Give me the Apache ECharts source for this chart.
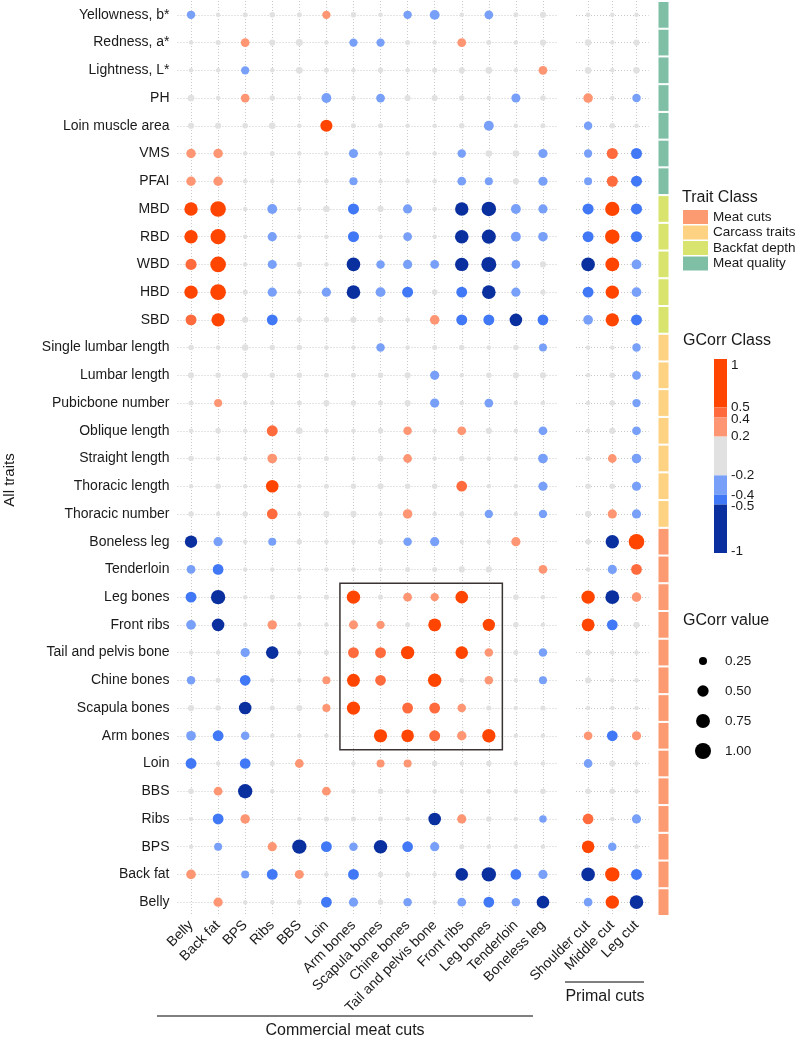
<!DOCTYPE html>
<html>
<head>
<meta charset="utf-8">
<script src="https://cdn.jsdelivr.net/npm/echarts@6/dist/echarts.min.js"></script>
<style>
  html, body { margin: 0; padding: 0; background: #fff; }
  #chart { width: 797px; height: 1038px; }
</style>
</head>
<body>
<div id="chart"></div>
<script>
// columns
const commercialCuts = ['Belly', 'Back fat', 'BPS', 'Ribs', 'BBS', 'Loin', 'Arm bones', 'Scapula bones',
  'Chine bones', 'Tail and pelvis bone', 'Front ribs', 'Leg bones', 'Tenderloin', 'Boneless leg'];
const primalCuts = ['Shoulder cut', 'Middle cut', 'Leg cut'];

// rows, top to bottom
const traits = ['Yellowness, b*', 'Redness, a*', 'Lightness, L*', 'PH', 'Loin muscle area', 'VMS', 'PFAI',
  'MBD', 'RBD', 'WBD', 'HBD', 'SBD',
  'Single lumbar length', 'Lumbar length', 'Pubicbone number', 'Oblique length', 'Straight length',
  'Thoracic length', 'Thoracic number',
  'Boneless leg', 'Tenderloin', 'Leg bones', 'Front ribs', 'Tail and pelvis bone', 'Chine bones',
  'Scapula bones', 'Arm bones', 'Loin', 'BBS', 'Ribs', 'BPS', 'Back fat', 'Belly'];

const traitClassOfRow = [
  'Meat quality', 'Meat quality', 'Meat quality', 'Meat quality', 'Meat quality', 'Meat quality', 'Meat quality',
  'Backfat depth', 'Backfat depth', 'Backfat depth', 'Backfat depth', 'Backfat depth',
  'Carcass traits', 'Carcass traits', 'Carcass traits', 'Carcass traits', 'Carcass traits', 'Carcass traits', 'Carcass traits',
  'Meat cuts', 'Meat cuts', 'Meat cuts', 'Meat cuts', 'Meat cuts', 'Meat cuts', 'Meat cuts',
  'Meat cuts', 'Meat cuts', 'Meat cuts', 'Meat cuts', 'Meat cuts', 'Meat cuts', 'Meat cuts'];

const traitClasses = ['Meat cuts', 'Carcass traits', 'Backfat depth', 'Meat quality'];
const traitClassColors = ['#fc9b72', '#fdd282', '#d8e46d', '#7fbfa5'];

// genetic correlations, one row per trait (null = same trait)
const gcorrCommercial = [
  [-0.28, 0.08, 0.1, -0.12, 0.1, 0.27, 0.12, -0.07, -0.28, -0.38, 0.05, -0.3, -0.1, -0.15],
  [0.05, 0.1, 0.3, 0.15, 0.19, -0.08, -0.27, -0.27, 0.1, 0.05, 0.3, -0.1, 0.08, 0.15],
  [0.08, -0.08, -0.27, 0.05, 0.18, -0.1, 0.04, -0.12, 0.08, -0.1, 0.15, 0.18, -0.05, 0.3],
  [0.18, 0.05, 0.3, -0.12, 0.05, -0.38, 0.08, -0.3, 0.15, -0.15, 0.12, -0.08, -0.32, 0.12],
  [0.15, -0.15, 0.12, 0.17, 0.04, 0.58, -0.1, 0.1, -0.05, 0.05, -0.12, -0.38, 0.05, -0.1],
  [0.35, 0.35, 0.05, 0.1, -0.05, 0.03, -0.32, 0.05, -0.04, 0.05, -0.28, 0.17, -0.17, -0.33],
  [0.35, 0.35, 0.03, 0.08, -0.05, 0.04, -0.26, 0.05, -0.03, 0.03, -0.3, -0.25, 0.15, -0.33],
  [0.7, 0.95, 0.04, -0.38, 0.04, 0.17, -0.48, 0.15, -0.33, 0.04, -0.7, -0.82, -0.38, -0.33],
  [0.7, 0.9, 0.03, -0.33, 0.04, 0.07, -0.48, -0.07, -0.3, 0.03, -0.72, -0.78, -0.38, -0.36],
  [0.48, 0.95, 0.03, -0.32, 0.12, 0.04, -0.72, -0.28, -0.33, -0.3, -0.7, -0.88, -0.3, -0.15],
  [0.7, 0.95, 0.1, -0.33, 0.04, -0.33, -0.72, -0.38, -0.47, 0.12, -0.46, -0.72, -0.33, -0.1],
  [0.47, 0.7, 0.15, -0.46, 0.12, 0.12, -0.15, 0.15, 0.04, 0.36, -0.47, -0.47, -0.62, -0.45],
  [0.12, 0.05, 0.17, -0.12, 0.12, 0.05, -0.04, -0.28, 0.06, 0.1, 0.12, -0.07, 0.12, -0.25],
  [0.15, 0.12, 0.15, 0.12, -0.12, 0.1, 0.1, 0.12, -0.15, -0.33, 0.05, 0.12, -0.15, -0.15],
  [0.1, 0.25, 0.05, 0.04, 0.1, -0.15, 0.12, -0.1, 0.15, -0.33, 0.05, -0.3, 0.07, -0.05],
  [0.05, 0.12, 0.05, 0.47, 0.17, 0.04, 0.05, 0.12, 0.28, 0.05, 0.3, 0.15, -0.06, -0.3],
  [0.12, 0.05, 0.05, 0.37, 0.04, 0.1, 0.05, 0.15, 0.3, 0.04, 0.12, 0.03, -0.04, -0.37],
  [0.05, 0.12, 0.05, 0.62, 0.05, 0.1, 0.12, 0.15, 0.12, 0.12, 0.45, 0.05, -0.04, -0.33],
  [0.12, 0.05, 0.12, 0.45, 0.05, 0.15, 0.15, 0.05, 0.35, 0.04, 0.1, -0.27, 0.06, -0.27],
  [-0.6, -0.33, 0.05, -0.25, 0.12, 0.05, 0.04, 0.12, -0.28, -0.33, 0.05, 0.07, 0.33, null],
  [-0.3, -0.45, 0.04, 0.05, 0.04, 0.04, 0.04, 0.04, 0.1, 0.1, 0.15, 0.15, null, 0.3],
  [-0.46, -0.8, 0.05, 0.1, 0.05, 0.1, 0.7, 0.1, 0.3, 0.27, 0.62, null, 0.12, 0.05],
  [-0.37, -0.62, 0.05, 0.35, 0.04, 0.04, 0.32, 0.27, 0.1, 0.65, null, 0.6, 0.12, 0.04],
  [0.05, 0.05, -0.33, -0.62, 0.05, 0.1, 0.46, 0.46, 0.7, null, 0.62, 0.28, 0.1, -0.28],
  [-0.28, 0.1, -0.45, 0.05, 0.04, 0.25, 0.65, 0.45, null, 0.7, 0.1, 0.28, 0.06, -0.25],
  [0.15, 0.12, -0.62, 0.1, 0.15, 0.25, 0.68, null, 0.46, 0.46, 0.28, 0.1, 0.05, 0.1],
  [-0.37, -0.46, -0.28, 0.05, 0.05, 0.03, null, 0.68, 0.62, 0.47, 0.35, 0.7, 0.03, 0.04],
  [-0.46, 0.04, -0.45, 0.1, 0.3, null, 0.04, 0.25, 0.25, 0.12, 0.05, 0.12, 0.07, 0.04],
  [0.12, 0.3, -0.8, 0.07, null, 0.3, 0.05, 0.12, 0.04, 0.07, 0.05, 0.07, 0.05, 0.12],
  [0.06, -0.46, 0.35, null, 0.04, 0.1, 0.1, 0.1, 0.06, -0.62, 0.33, 0.12, 0.06, -0.22],
  [0.06, -0.25, null, 0.33, -0.8, -0.46, -0.28, -0.72, -0.45, -0.33, 0.1, 0.06, 0.04, 0.04],
  [0.36, null, -0.25, -0.46, 0.32, 0.04, -0.46, 0.12, 0.1, 0.05, -0.62, -0.8, -0.45, -0.33],
  [null, 0.33, 0.05, 0.07, 0.1, -0.45, -0.33, 0.12, -0.28, 0.05, -0.3, -0.45, -0.28, -0.62]
];

const gcorrPrimal = [
  [0.08, -0.08, 0.06], [0.17, 0.05, -0.15], [0.18, 0.04, -0.17], [0.36, 0.07, -0.28],
  [-0.28, 0.12, 0.05], [-0.27, 0.48, -0.47], [-0.25, 0.48, -0.47],
  [-0.48, 0.8, -0.48], [-0.47, 0.82, -0.48], [-0.72, 0.75, -0.38], [-0.46, 0.7, -0.37], [-0.37, 0.7, -0.47],
  [0.08, 0.05, -0.28], [0.04, 0.12, -0.3], [0.04, 0.12, -0.27], [0.02, 0.15, -0.3],
  [0.1, 0.3, -0.36], [0.12, 0.12, -0.33], [0.15, 0.33, -0.33],
  [0.12, -0.7, 0.95], [0.03, -0.33, 0.45], [0.7, -0.75, 0.36], [0.65, -0.45, 0.15],
  [0.12, 0.07, 0.07], [0.15, 0.06, 0.06], [0.04, 0.05, 0.05], [0.3, -0.45, 0.33],
  [-0.3, 0.15, 0.04], [0.12, 0.12, 0.05], [0.45, 0.05, -0.33], [0.62, -0.28, 0.06],
  [-0.72, 0.8, -0.47], [-0.3, 0.7, -0.72]
];

// GCorr classes
const classBreaks = [1, 0.5, 0.4, 0.2, -0.2, -0.4, -0.5, -1];
const classColors = ['#ff4500', '#ff6b3d', '#fe9673', '#e1e1e1', '#78a0f8', '#4178f6', '#0a309f'];
const sizeLegend = [0.25, 0.5, 0.75, 1.0];

const highlightCols = ['Arm bones', 'Leg bones'];
const highlightRows = ['Leg bones', 'Arm bones'];

const chart = echarts.init(document.getElementById('chart'));
const FONT = 'Liberation Sans, Arial, sans-serif';
const TXT = '#1a1a1a';

const dotSize = v => Math.max(4.5, 16 * Math.sqrt(Math.abs(v)));

function cells(cols, matrix) {
  const out = [];
  matrix.forEach((row, i) => row.forEach((v, j) => {
    if (v !== null) out.push([cols[j], traits[i], v]);
  }));
  return out;
}

function gridLines(cols) {
  return cols.map(c => ({ xAxis: c })).concat(traits.map(t => ({ yAxis: t })));
}

const grids = [
  { left: 177.5, top: 1, width: 379, height: 915 },
  { left: 576, top: 1, width: 72.6, height: 915 },
  { left: 657.5, top: 1, width: 12, height: 915 }
];

function xCat(cols, idx) {
  return {
    type: 'category', gridIndex: idx, data: cols,
    axisLine: { show: false }, axisTick: { show: false }, splitLine: { show: false },
    axisLabel: { rotate: 45, margin: 7, fontSize: 14, color: TXT, fontFamily: FONT, interval: 0 }
  };
}
function yCat(idx, showLabels) {
  return {
    type: 'category', gridIndex: idx, data: traits, inverse: true, show: idx !== 2,
    axisLine: { show: false }, axisTick: { show: false }, splitLine: { show: false },
    axisLabel: { show: showLabels, margin: 8, fontSize: 14, color: TXT, fontFamily: FONT, interval: 0 }
  };
}

const lineStyle = { type: [1, 2], color: '#c9c9c9', width: 1 };
function gridSeries(cols, idx) {
  return {
    type: 'scatter', xAxisIndex: idx, yAxisIndex: idx, data: [], z: 1, silent: true,
    markLine: { z: 1, silent: true, symbol: 'none', label: { show: false }, lineStyle: lineStyle,
      emphasis: { disabled: true }, data: gridLines(cols) }
  };
}

const pieces = [];
for (let i = 0; i < classColors.length; i++) {
  const hi = classBreaks[i], lo = classBreaks[i + 1];
  if (hi > 0.2) pieces.push({ gt: lo, lte: i === 0 ? 2 : hi, color: classColors[i] });
  else if (lo >= -0.2) pieces.push({ gte: lo, lte: hi, color: classColors[i] });
  else pieces.push({ gte: i === classColors.length - 1 ? -2 : lo, lt: hi, color: classColors[i] });
}

// legends
const graphics = [];
graphics.push({ type: 'text', x: 10, y: 480, rotation: Math.PI / 2,
  style: { text: 'All traits', fontSize: 15, fill: TXT, fontFamily: FONT, align: 'center', verticalAlign: 'middle' } });

graphics.push({ type: 'text', left: 682, top: 190, style: { text: 'Trait Class', fontSize: 16, fill: TXT, fontFamily: FONT } });
traitClasses.forEach((c, i) => {
  const y = 210 + i * 15.5;
  graphics.push({ type: 'rect', shape: { x: 683, y: y, width: 25, height: 14 }, style: { fill: traitClassColors[i] } });
  graphics.push({ type: 'text', x: 713, y: y + 7, style: { text: c, fontSize: 13.5, fill: TXT, fontFamily: FONT, verticalAlign: 'middle' } });
});

graphics.push({ type: 'text', left: 683, top: 333, style: { text: 'GCorr Class', fontSize: 16, fill: TXT, fontFamily: FONT } });
const barTop = 359, barPx = 97;
const vToY = v => barTop + (1 - v) * barPx;
for (let i = 0; i < classColors.length; i++) {
  const y0 = vToY(classBreaks[i]), y1 = vToY(classBreaks[i + 1]);
  graphics.push({ type: 'rect', shape: { x: 714, y: y0, width: 13, height: y1 - y0 }, style: { fill: classColors[i] } });
}
const labelNudge = { '1': 6, '0.4': 2, '-0.5': 2, '-1': -2 };
classBreaks.forEach(b => {
  const t = String(b);
  graphics.push({ type: 'text', x: 731, y: vToY(b) + (labelNudge[t] || 0),
    style: { text: t, fontSize: 13.5, fill: TXT, fontFamily: FONT, verticalAlign: 'middle' } });
});

graphics.push({ type: 'text', left: 683, top: 613, style: { text: 'GCorr value', fontSize: 16, fill: TXT, fontFamily: FONT } });
sizeLegend.forEach((v, i) => {
  const y = 661 + i * 30;
  graphics.push({ type: 'circle', shape: { cx: 703, cy: y, r: dotSize(v) / 2 }, style: { fill: '#000' } });
  graphics.push({ type: 'text', x: 725, y: y, style: { text: v.toFixed(2), fontSize: 13.5, fill: TXT, fontFamily: FONT, verticalAlign: 'middle' } });
});

// group labels under the x axes
graphics.push({ type: 'line', shape: { x1: 157, y1: 1016, x2: 533, y2: 1016 }, style: { stroke: '#000', lineWidth: 1 } });
graphics.push({ type: 'text', x: 345, y: 1031, style: { text: 'Commercial meat cuts', fontSize: 16, fill: TXT, fontFamily: FONT, align: 'center', verticalAlign: 'middle' } });
graphics.push({ type: 'line', shape: { x1: 565, y1: 982, x2: 644, y2: 982 }, style: { stroke: '#000', lineWidth: 1 } });
graphics.push({ type: 'text', x: 605, y: 997, style: { text: 'Primal cuts', fontSize: 16, fill: TXT, fontFamily: FONT, align: 'center', verticalAlign: 'middle' } });

const option = {
  animation: false,
  backgroundColor: '#fff',
  grid: grids,
  xAxis: [
    xCat(commercialCuts, 0),
    xCat(primalCuts, 1),
    { type: 'value', gridIndex: 2, min: 0, max: 1, show: false }
  ],
  yAxis: [yCat(0, true), yCat(1, false), yCat(2, false)],
  visualMap: { type: 'piecewise', show: false, dimension: 2, seriesIndex: [1, 3], pieces: pieces },
  series: [
    gridSeries(commercialCuts, 0),
    { type: 'scatter', xAxisIndex: 0, yAxisIndex: 0, z: 3, data: cells(commercialCuts, gcorrCommercial),
      itemStyle: { opacity: 1 }, symbolSize: v => dotSize(v[2]) },
    gridSeries(primalCuts, 1),
    { type: 'scatter', xAxisIndex: 1, yAxisIndex: 1, z: 3, data: cells(primalCuts, gcorrPrimal),
      itemStyle: { opacity: 1 }, symbolSize: v => dotSize(v[2]) },
    { type: 'custom', xAxisIndex: 0, yAxisIndex: 0, z: 4, silent: true,
      encode: { x: [0, 1], y: [2, 3] },
      data: [[commercialCuts.indexOf(highlightCols[0]), commercialCuts.indexOf(highlightCols[1]),
              traits.indexOf(highlightRows[0]), traits.indexOf(highlightRows[1])]],
      renderItem: (params, api) => {
        const a = api.coord([api.value(0), api.value(2)]);
        const b = api.coord([api.value(1), api.value(3)]);
        const s = api.size([1, 1]);
        return { type: 'rect',
          shape: { x: a[0] - s[0] / 2, y: a[1] - s[1] / 2, width: b[0] - a[0] + s[0], height: b[1] - a[1] + s[1] },
          style: { fill: 'none', stroke: '#3b3333', lineWidth: 1.5 } };
      } },
    { type: 'bar', xAxisIndex: 2, yAxisIndex: 2, barWidth: '100%', silent: true,
      itemStyle: { borderColor: '#fff', borderWidth: 1 },
      data: traits.map((t, i) => ({ value: 1, itemStyle: { color: traitClassColors[traitClasses.indexOf(traitClassOfRow[i])] } })) }
  ],
  graphic: graphics
};

chart.setOption(option);
</script>
</body>
</html>
